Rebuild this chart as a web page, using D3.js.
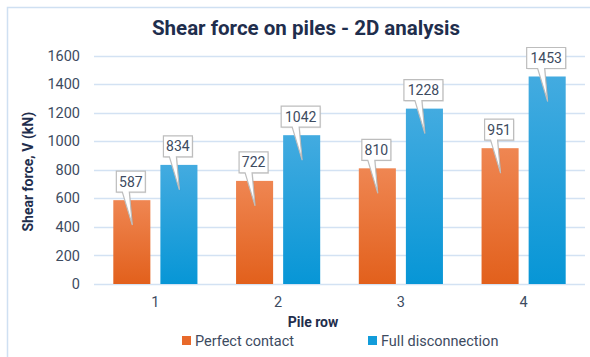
<!DOCTYPE html>
<html>
<head>
<meta charset="utf-8">
<script src="https://cdn.jsdelivr.net/npm/d3@7/dist/d3.min.js"></script>
<style>
  html, body { margin: 0; padding: 0; background: #ffffff; }
  svg { display: block; font-family: Roboto, "Noto Sans", sans-serif; }
</style>
</head>
<body>
<svg id="chart" width="590" height="357"></svg>
<script>
// Shear force per pile row for the two interface assumptions
const pileRows = ["1", "2", "3", "4"];
const seriesNames = ["Perfect contact", "Full disconnection"];
const perfectContact = [587, 722, 810, 951];
const fullDisconnection = [834, 1042, 1228, 1453];
const yTicks = [0, 200, 400, 600, 800, 1000, 1200, 1400, 1600];

const seriesValues = [perfectContact, fullDisconnection];
const rows = pileRows.map((r, i) => ({
  row: r,
  values: seriesNames.map((s, k) => ({ series: s, k, value: seriesValues[k][i] }))
}));

const svg = d3.select("#chart");
const W = 590, H = 357;
const plot = { left: 94, right: 585, top: 55.5, bottom: 284 };

const colors = [
  { top: "#ef8652", bottom: "#e2601c", swatch: "#e8692a" },
  { top: "#43abe0", bottom: "#0796d6", swatch: "#129cda" }
];

// Outer frame
svg.append("rect")
  .attr("x", 7.5).attr("y", 7.5)
  .attr("width", W + 20).attr("height", H + 20)
  .attr("fill", "none").attr("stroke", "#cfe0f2").attr("stroke-width", 1.5);

// Vertical gradients for the bars
const defs = svg.append("defs");
colors.forEach((c, k) => {
  const g = defs.append("linearGradient")
    .attr("id", "grad" + k).attr("x1", 0).attr("y1", 0).attr("x2", 0).attr("y2", 1);
  g.append("stop").attr("offset", "0%").attr("stop-color", c.top);
  g.append("stop").attr("offset", "100%").attr("stop-color", c.bottom);
});

const x0 = d3.scaleBand().domain(pileRows).range([plot.left, plot.right]).padding(0);
const x1 = d3.scaleBand().domain(seriesNames).range([0, x0.bandwidth()])
  .paddingInner(0.213).paddingOuter(0.41);
const y = d3.scaleLinear().domain([0, 1600]).range([plot.bottom, plot.top]);

// Horizontal gridlines
svg.append("g")
  .selectAll("line")
  .data(yTicks)
  .join("line")
  .attr("x1", plot.left).attr("x2", plot.right)
  .attr("y1", d => Math.round(y(d)) + 0.5).attr("y2", d => Math.round(y(d)) + 0.5)
  .attr("stroke", "#d3e2f3").attr("stroke-width", 1.3);

// Y axis labels
const yAxis = d3.axisLeft(y).tickValues(yTicks).tickFormat(d3.format("d")).tickSize(0).tickPadding(0);
const gy = svg.append("g").attr("transform", `translate(${plot.left - 14},0)`).call(yAxis);
gy.select(".domain").remove();
gy.selectAll("text")
  .attr("font-family", "Roboto, sans-serif")
  .attr("font-size", 14.5).attr("fill", "#3d4b5f");

// X axis labels
const xAxis = d3.axisBottom(x0).tickSize(0).tickPadding(0);
const gx = svg.append("g").attr("transform", `translate(0,${plot.bottom + 13})`).call(xAxis);
gx.select(".domain").remove();
gx.selectAll("text")
  .attr("font-family", "Roboto, sans-serif")
  .attr("font-size", 14.5).attr("fill", "#3d4b5f");

// Bars
const groups = svg.append("g").selectAll("g")
  .data(rows).join("g")
  .attr("transform", d => `translate(${x0(d.row)},0)`);

groups.selectAll("rect")
  .data(d => d.values)
  .join("rect")
  .attr("x", d => x1(d.series))
  .attr("y", d => y(d.value))
  .attr("width", x1.bandwidth())
  .attr("height", d => y(0) - y(d.value))
  .attr("fill", d => `url(#grad${d.k})`);

// Value callouts with pointer into each bar
const boxH = 21;
groups.each(function (d) {
  const g = d3.select(this);
  d.values.forEach(v => {
    const label = String(v.value);
    const bw = label.length > 3 ? 39 : 29;
    const cx = x1(v.series) + x1.bandwidth() / 2 - 1;
    const top = y(v.value);
    const bBottom = top - 8;
    const bTop = bBottom - boxH;
    const tipY = top + 25;
    const l = cx - bw / 2, r = cx + bw / 2;
    const path = `M${l},${bTop} L${r},${bTop} L${r},${bBottom} L${cx - 1.5},${bBottom} ` +
      `L${cx + 1.5},${tipY} L${cx - 8.5},${bBottom} L${l},${bBottom} Z`;
    g.append("path")
      .attr("d", path)
      .attr("transform", "translate(1,1)")
      .attr("fill", "rgba(0,0,0,0.08)");
    g.append("path")
      .attr("d", path)
      .attr("fill", "#ffffff")
      .attr("stroke", "#bdbdbd").attr("stroke-width", 1.2)
      .attr("stroke-linejoin", "miter");
    g.append("text")
      .attr("x", cx).attr("y", bBottom - 5.5)
      .attr("text-anchor", "middle")
      .attr("font-size", 14).attr("fill", "#3d4b5f")
      .text(label);
  });
});

// Title
svg.append("text")
  .attr("x", 306).attr("y", 35)
  .attr("text-anchor", "middle")
  .attr("font-size", 20.5).attr("font-weight", "bold").attr("fill", "#1f2e4d")
  .text("Shear force on piles - 2D analysis");

// Axis titles
svg.append("text")
  .attr("transform", `translate(33,${(plot.top + plot.bottom) / 2 + 2}) rotate(-90)`)
  .attr("text-anchor", "middle")
  .attr("font-size", 14).attr("font-weight", "bold").attr("fill", "#1f2e4d")
  .text("Shear force, V (kN)");

svg.append("text")
  .attr("x", 313).attr("y", 327)
  .attr("text-anchor", "middle")
  .attr("font-size", 14).attr("font-weight", "bold").attr("fill", "#1f2e4d")
  .text("Pile row");

// Legend
const legendX = [182, 368];
const legend = svg.append("g").selectAll("g")
  .data(seriesNames).join("g")
  .attr("transform", (d, i) => `translate(${legendX[i]},341)`);
legend.append("rect")
  .attr("x", 0).attr("y", -5).attr("width", 9).attr("height", 9)
  .attr("fill", (d, i) => colors[i].swatch);
legend.append("text")
  .attr("x", 13).attr("y", 5)
  .attr("font-size", 14.5).attr("fill", "#3d4b5f")
  .text(d => d);
</script>
</body>
</html>
